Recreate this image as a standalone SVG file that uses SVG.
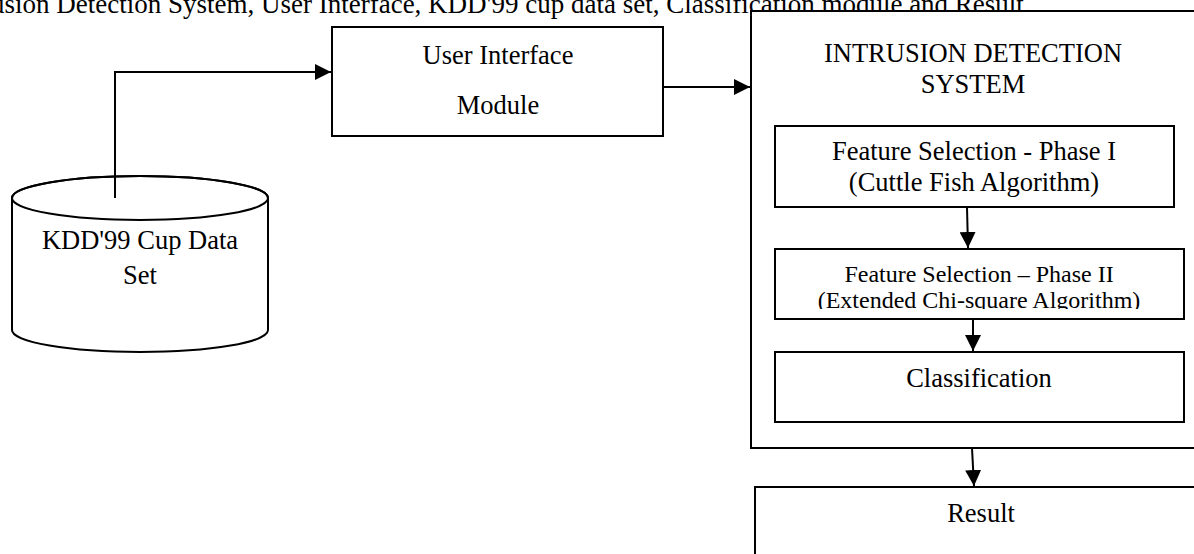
<svg xmlns="http://www.w3.org/2000/svg" width="1194" height="554" viewBox="0 0 1194 554">
<style>
  .t { font-family: "Liberation Serif", "Times New Roman", serif; font-size: 26.5px; fill: #000; }
  .c { font-size: 27px; }
  .m { text-anchor: middle; }
  .s { font-size: 24px; }
  .box { fill: #fff; stroke: #000; stroke-width: 2; }
  .ln { fill: none; stroke: #000; stroke-width: 2; }
</style>
<defs>
  <marker id="arr" viewBox="0 0 16 16" refX="16" refY="8" markerWidth="16" markerHeight="16" markerUnits="userSpaceOnUse" orient="auto">
    <path d="M0,0 L16,8 L0,16 Z" fill="#000"/>
  </marker>
  <clipPath id="clip2"><rect x="770" y="240" width="420" height="69"/></clipPath>
</defs>
<rect width="1194" height="554" fill="#fff"/>
<text class="t c" x="-9" y="13">usion Detection System, User Interface, KDD'99 cup data set, Classification module and Result.</text>

<g id="ids">
  <rect class="box" x="751" y="11" width="460" height="437"/>
  <text class="t m" x="973" y="62">INTRUSION DETECTION</text>
  <text class="t m" x="973" y="93">SYSTEM</text>
</g>
<g id="phase1">
  <rect class="box" x="775" y="126" width="399" height="81"/>
  <text class="t m" x="974" y="160">Feature Selection - Phase I</text>
  <text class="t m" x="974" y="191">(Cuttle Fish Algorithm)</text>
</g>
<g id="phase2">
  <rect class="box" x="775" y="249" width="409" height="70"/>
  <g clip-path="url(#clip2)">
    <text class="t s m" x="979" y="282">Feature Selection – Phase II</text>
    <text class="t s m" x="979" y="308">(Extended Chi-square Algorithm)</text>
  </g>
</g>
<g id="classification">
  <rect class="box" x="775" y="352" width="409" height="70"/>
  <text class="t m" x="979" y="387">Classification</text>
</g>
<g id="result">
  <rect class="box" x="755" y="487" width="460" height="90"/>
  <text class="t m" x="981" y="522">Result</text>
</g>
<g id="ui">
  <rect class="box" x="332" y="27" width="331" height="109"/>
  <text class="t m" x="498" y="64">User Interface</text>
  <text class="t m" x="498" y="114">Module</text>
</g>
<g id="kdd">
  <path class="box" d="M12,198 L12,330 A128,22 0 0 0 268,330 L268,198 A128,22 0 0 0 12,198 Z"/>
  <ellipse class="ln" cx="140" cy="198" rx="128" ry="22"/>
  <text class="t m" x="140" y="249">KDD'99 Cup Data</text>
  <text class="t m" x="140" y="284">Set</text>
</g>
<g id="connectors">
  <path class="ln" d="M115,198 L115,72 L331,72" marker-end="url(#arr)"/>
  <path class="ln" d="M663,87 L750,87" marker-end="url(#arr)"/>
  <path class="ln" d="M967,207 L968,248" marker-end="url(#arr)"/>
  <path class="ln" d="M973,319 L973,351" marker-end="url(#arr)"/>
  <path class="ln" d="M972,448 L974,486" marker-end="url(#arr)"/>
</g>
</svg>
